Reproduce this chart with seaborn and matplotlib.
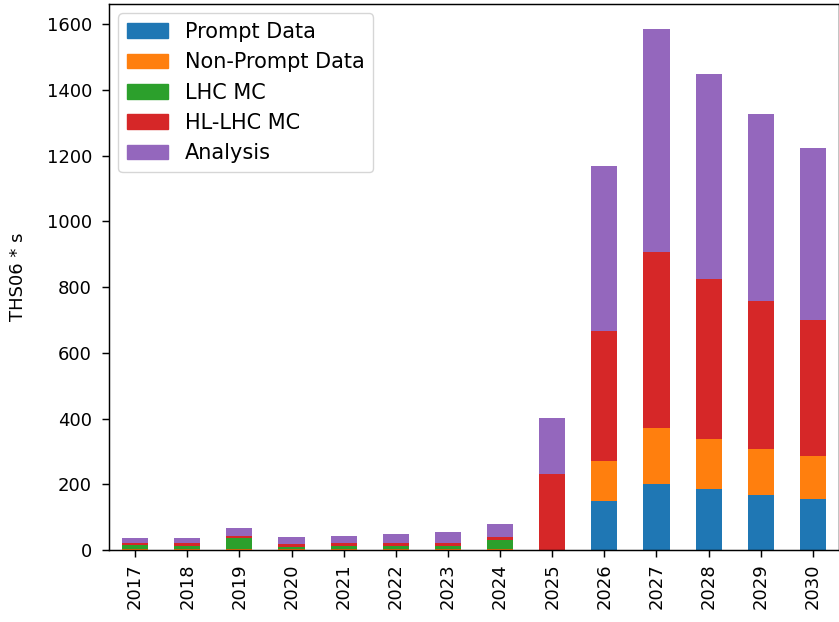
import numpy as np
import pandas as pd
import matplotlib
matplotlib.use("Agg")
import matplotlib.pyplot as plt
import seaborn as sns
from matplotlib.patches import Patch

# chart values
years = ['2017', '2018', '2019', '2020', '2021', '2022', '2023',
         '2024', '2025', '2026', '2027', '2028', '2029', '2030']
prompt_data = [0, 0, 0, 0, 0, 0, 0, 0, 0, 150, 200, 187, 167, 154]
nonprompt_data = [3, 3, 3, 3, 3, 3, 3, 3, 0, 122, 170, 152, 140, 131]
lhc_mc = [13, 10, 32, 7, 10, 10, 10, 27, 0, 0, 0, 0, 0, 0]
hllhc_mc = [6, 9, 8, 8, 9, 9, 9, 9, 231, 395, 536, 486, 451, 415]
analysis = [13, 13, 23, 21, 22, 27, 32, 41, 171, 500, 679, 622, 567, 522]

series_names = ['Prompt Data', 'Non-Prompt Data', 'LHC MC', 'HL-LHC MC', 'Analysis']
series_vals = [prompt_data, nonprompt_data, lhc_mc, hllhc_mc, analysis]
colors = sns.color_palette('tab10', 5)

df = pd.DataFrame(dict(zip(series_names, series_vals)), index=years)
cum = df.cumsum(axis=1)
cum['Year'] = years

plt.rcParams['font.size'] = 13
plt.rcParams['axes.linewidth'] = 1.05

fig = plt.figure(figsize=(8.39, 6.22), dpi=100)
ax = fig.add_axes([109 / 839, 72 / 622, 730 / 839, 546 / 622])

# stacked bars: draw cumulative totals from top layer down
for name, col in reversed(list(zip(series_names, colors))):
    sns.barplot(data=cum, x='Year', y=name, color=col, width=0.5,
                saturation=1, ax=ax)

ax.set_xlim(-0.5, len(years) - 0.5)
ax.set_ylim(0, 1661)
ax.set_ylabel('THS06 * s')
ax.yaxis.set_label_coords(-0.112, 0.5)
ax.set_xlabel('')
ax.tick_params(axis='x', rotation=90, width=1.05, length=4.8, pad=5)
ax.tick_params(axis='y', width=1.05, length=4.8, pad=7.5)

handles = [Patch(color=c, label=n) for n, c in zip(series_names, colors)]
ax.legend(handles=handles, loc='upper left', fontsize=15,
          borderaxespad=0.45)

fig.savefig('out.png', dpi=100)
